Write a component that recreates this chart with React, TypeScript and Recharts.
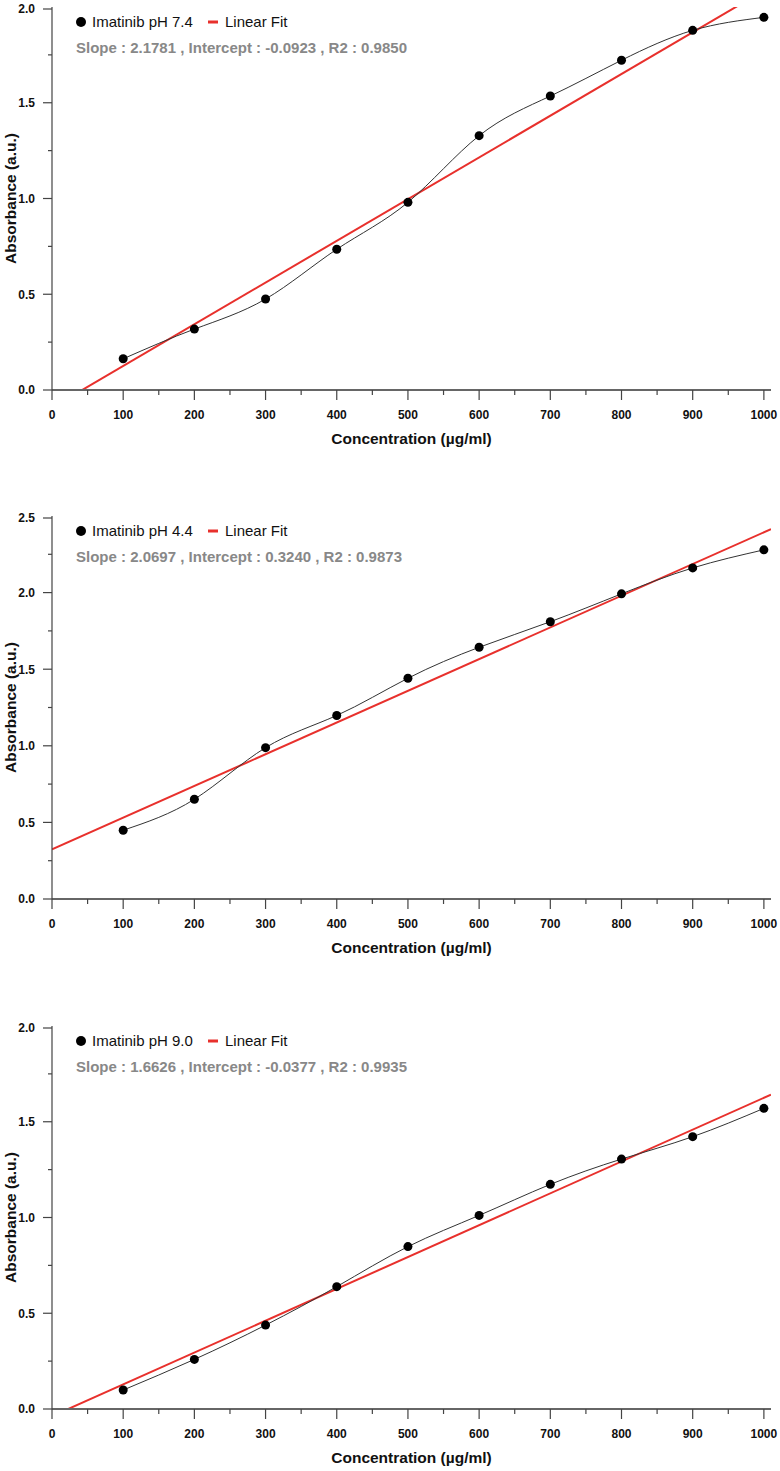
import { LineChart, Line, XAxis, YAxis, Label } from 'recharts';

// concentration in µg/ml
const concentrations = [100, 200, 300, 400, 500, 600, 700, 800, 900, 1000];

// absorbance
const absorbancePh74 = [0.163, 0.318, 0.475, 0.735, 0.98, 1.328, 1.535, 1.722, 1.878, 1.946];
const absorbancePh44 = [0.449, 0.651, 0.988, 1.198, 1.441, 1.643, 1.81, 1.992, 2.161, 2.279];
const absorbancePh90 = [0.099, 0.259, 0.438, 0.639, 0.848, 1.011, 1.173, 1.305, 1.422, 1.57];

// linear fit parameters (slope per 1000 µg/ml)
const fitPh74 = { slope: 2.1781, intercept: -0.0923, r2: 0.985 };
const fitPh44 = { slope: 2.0697, intercept: 0.324, r2: 0.9873 };
const fitPh90 = { slope: 1.6626, intercept: -0.0377, r2: 0.9935 };

const xTicks = [0, 50, 100, 150, 200, 250, 300, 350, 400, 450, 500, 550, 600, 650, 700, 750, 800, 850, 900, 950, 1000];
const yTicks20 = [0, 0.25, 0.5, 0.75, 1, 1.25, 1.5, 1.75, 2];
const yTicks25 = [0, 0.25, 0.5, 0.75, 1, 1.25, 1.5, 1.75, 2, 2.25, 2.5];

const FONT = '"Liberation Sans", Arial, sans-serif';
const X_MAX = 1010;

const XTick = ({ x, y, payload }: any) => {
  const axisY = y - 19;
  const major = payload.value % 100 === 0;
  return (
    <g>
      <line x1={x} x2={x} y1={axisY} y2={axisY + (major ? 10 : 5)} stroke="#444" strokeWidth={1.2} />
      {major && (
        <text x={x} y={y + 10} textAnchor="middle" fontSize={12} fontWeight={700} fill="#111" fontFamily={FONT}>
          {payload.value}
        </text>
      )}
    </g>
  );
};

const YTick = ({ x, y, payload }: any) => {
  const axisX = x + 17;
  const v = payload.value;
  const major = Math.abs(v * 2 - Math.round(v * 2)) < 1e-6;
  return (
    <g>
      <line x1={axisX - (major ? 9 : 4)} x2={axisX} y1={y} y2={y} stroke="#444" strokeWidth={1.2} />
      {major && (
        <text x={x} y={y} dy="0.36em" textAnchor="end" fontSize={12} fontWeight={700} fill="#111" fontFamily={FONT}>
          {v.toFixed(1)}
        </text>
      )}
    </g>
  );
};

function Panel({ top, label, values, fit, yMax, yTicks }: any) {
  const data = concentrations.map((c, i) => ({ x: c, y: values[i] }));
  const fitData = [
    { x: 0, fit: fit.intercept },
    { x: X_MAX, fit: fit.intercept + (fit.slope * X_MAX) / 1000 },
  ];
  const fmt = (n: number) => n.toFixed(4);
  return (
    <div style={{ position: 'absolute', top, left: 0, width: 780, height: 460 }}>
      <LineChart width={780} height={460} data={data} margin={{ top: 7, right: 9, left: 0, bottom: 10 }}>
        <XAxis
          type="number"
          dataKey="x"
          domain={[0, X_MAX]}
          ticks={xTicks}
          allowDataOverflow
          height={60}
          tickSize={10}
          tickMargin={9}
          tickLine={false}
          tick={<XTick />}
          axisLine={{ stroke: '#666', strokeWidth: 2 }}
        >
          <Label
            value="Concentration (µg/ml)"
            position="insideBottom"
            offset={6}
            style={{ fontSize: 15.5, fontWeight: 700, fill: '#111', fontFamily: FONT }}
          />
        </XAxis>
        <YAxis
          type="number"
          domain={[0, yMax]}
          ticks={yTicks}
          allowDataOverflow
          width={52}
          tickSize={9}
          tickMargin={8}
          tickLine={false}
          tick={<YTick />}
          axisLine={{ stroke: '#444', strokeWidth: 1.2 }}
        >
          <Label
            value="Absorbance (a.u.)"
            angle={-90}
            position="insideLeft"
            offset={10}
            style={{ textAnchor: 'middle', fontSize: 15.5, fontWeight: 700, fill: '#111', fontFamily: FONT }}
          />
        </YAxis>
        <Line
          data={fitData}
          dataKey="fit"
          type="linear"
          stroke="#e8302c"
          strokeWidth={2}
          dot={false}
          isAnimationActive={false}
        />
        <Line
          dataKey="y"
          type="natural"
          stroke="#333"
          strokeWidth={1}
          dot={{ r: 4.5, fill: '#000', stroke: '#000', strokeWidth: 0 }}
          isAnimationActive={false}
        />
      </LineChart>
      <svg width={520} height={60} style={{ position: 'absolute', top: 0, left: 0, pointerEvents: 'none' }}>
        <circle cx={81} cy={22} r={5} fill="#000" />
        <text x={92} y={22} dy="0.36em" fontSize={15} fill="#111" fontFamily={FONT}>
          {label}
        </text>
        <rect x={208} y={20.5} width={10} height={3} fill="#e8302c" />
        <text x={225} y={22} dy="0.36em" fontSize={15} fill="#111" fontFamily={FONT}>
          Linear Fit
        </text>
        <text x={76} y={48} dy="0.36em" fontSize={15} fontWeight={700} fill="#888" fontFamily={FONT}>
          {`Slope : ${fmt(fit.slope)} , Intercept : ${fmt(fit.intercept)} , R2 : ${fmt(fit.r2)}`}
        </text>
      </svg>
    </div>
  );
}

export default function App() {
  return (
    <div style={{ position: 'relative', width: 780, height: 1471, background: '#fff' }}>
      <style>{'body{margin:0}'}</style>
      <Panel top={0} label="Imatinib pH 7.4" values={absorbancePh74} fit={fitPh74} yMax={2} yTicks={yTicks20} />
      <Panel top={509} label="Imatinib pH 4.4" values={absorbancePh44} fit={fitPh44} yMax={2.5} yTicks={yTicks25} />
      <Panel top={1019} label="Imatinib pH 9.0" values={absorbancePh90} fit={fitPh90} yMax={2} yTicks={yTicks20} />
    </div>
  );
}
